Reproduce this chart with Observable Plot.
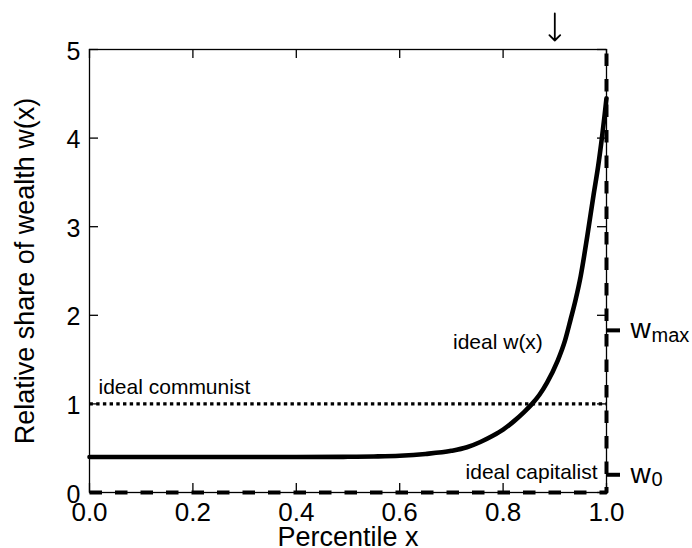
<!DOCTYPE html>
<html>
<head>
<meta charset="utf-8">
<script src="https://cdn.jsdelivr.net/npm/d3@7"></script>
<script src="https://cdn.jsdelivr.net/npm/@observablehq/plot@0.6"></script>
<style>
  html, body { margin: 0; padding: 0; background: #fff; }
  svg { display: block; }
</style>
</head>
<body>
<div id="chart"></div>
<script>
// ---- data ----
const xTicks = [0, 0.2, 0.4, 0.6, 0.8, 1.0];
const yTicks = [0, 1, 2, 3, 4, 5];

// ideal w(x) curve
const curveX = [0, 0.1, 0.2, 0.3, 0.4, 0.5, 0.55, 0.6, 0.65, 0.7, 0.73, 0.756, 0.78, 0.8, 0.82, 0.84, 0.856, 0.87, 0.885, 0.905, 0.92, 0.93, 0.94, 0.95, 0.963, 0.975, 0.984, 0.9917, 0.996, 1.0];
const curveW = [0.40, 0.40, 0.40, 0.40, 0.40, 0.403, 0.407, 0.415, 0.435, 0.47, 0.51, 0.57, 0.64, 0.71, 0.80, 0.905, 1.0, 1.10, 1.24, 1.48, 1.72, 1.94, 2.17, 2.44, 2.90, 3.36, 3.69, 4.03, 4.24, 4.45];

// ideal communist: everyone gets 1
const communistX = [0, 1];
const communistW = [1, 1];

// ideal capitalist: nobody has anything except the very top
const capitalistX = [0, 1, 1];
const capitalistW = [0, 0, 5];

// right-side markers
const markerNames = ["max", "0"];
const markerW = [1.83, 0.2];

// arrow above the plot
const arrowX = [0.9];

// annotations
const noteText = ["ideal communist", "ideal w(x)", "ideal capitalist"];
const noteX = [0, 0.79, 1];
const noteW = [1, 1.7, 0];

const xLabel = "Percentile x";
const yLabel = "Relative share of wealth w(x)";

// ---- tables built from the arrays ----
const curve = curveX.map((x, i) => ({x, w: curveW[i]}));
const communist = communistX.map((x, i) => ({x, w: communistW[i]}));
const capitalist = capitalistX.map((x, i) => ({x, w: capitalistW[i]}));
const markers = markerNames.map((s, i) => ({sub: s, w: markerW[i]}));
const notes = noteText.map((t, i) => ({t, x: noteX[i], w: noteW[i]}));

const W = 692, H = 548;
const mL = 89, mR = 86, mT = 49, mB = 56;
const plotW = W - mL - mR, plotH = H - mT - mB;
const tickLen = 9;
const font = "'Liberation Sans', Arial, Helvetica, sans-serif";

const chart = Plot.plot({
  width: W,
  height: H,
  marginLeft: mL,
  marginRight: mR,
  marginTop: mT,
  marginBottom: mB,
  x: {domain: [0, 1]},
  y: {domain: [0, 5]},
  style: {fontFamily: font, background: "white", color: "black", overflow: "visible"},
  marks: [
    // frame
    Plot.frame({stroke: "black", strokeWidth: 1.3}),
    // inward ticks on four sides
    Plot.tickX(xTicks, {x: d => d, insetTop: plotH - tickLen, stroke: "black", strokeWidth: 1.3}),
    Plot.tickX(xTicks, {x: d => d, insetBottom: plotH - tickLen, stroke: "black", strokeWidth: 1.3}),
    Plot.tickY(yTicks, {y: d => d, insetRight: plotW - tickLen, stroke: "black", strokeWidth: 1.3}),
    Plot.tickY(yTicks, {y: d => d, insetLeft: plotW - tickLen, stroke: "black", strokeWidth: 1.3}),
    // tick labels
    Plot.axisX(xTicks, {tickSize: 0, tickPadding: 10, fontSize: 26, tickFormat: d3.format(".1f"), label: null}),
    Plot.axisY(yTicks, {tickSize: 0, tickPadding: 9, fontSize: 25, tickFormat: d3.format("d"), label: null, dy: 2}),
    // axis titles
    Plot.text([xLabel], {text: d => d, frameAnchor: "bottom", textAnchor: "middle", lineAnchor: "middle", dy: 45, fontSize: 27}),
    Plot.text([yLabel], {text: d => d, frameAnchor: "left", textAnchor: "middle", lineAnchor: "middle", dx: -64, rotate: -90, fontSize: 27}),
    // ideal communist (dotted)
    Plot.line(communist, {x: "x", y: "w", stroke: "black", strokeWidth: 3.2, strokeDasharray: "3.4,3.3", strokeLinecap: "butt"}),
    // ideal capitalist (dashed)
    Plot.line(capitalist, {x: "x", y: "w", stroke: "black", strokeWidth: 4, strokeDasharray: "12.5,13", strokeLinecap: "butt", strokeLinejoin: "miter"}),
    // ideal w(x)
    Plot.line(curve, {x: "x", y: "w", stroke: "black", strokeWidth: 4.6, curve: "monotone-x"}),
    // annotations
    Plot.text(notes.slice(0, 1), {x: "x", y: "w", text: "t", textAnchor: "start", dx: 9, dy: -17, fontSize: 21}),
    Plot.text(notes.slice(1, 2), {x: "x", y: "w", text: "t", fontSize: 21}),
    Plot.text(notes.slice(2, 3), {x: "x", y: "w", text: "t", textAnchor: "end", dx: -9, dy: -20, fontSize: 21}),
    // right side markers
    Plot.tickY(markers, {y: "w", insetLeft: plotW, insetRight: -14, stroke: "black", strokeWidth: 4}),
    Plot.text(markers, {x: 1, y: "w", text: () => "w", textAnchor: "start", dx: 24, dy: -1, fontSize: 28}),
    Plot.text(markers, {x: 1, y: "w", text: "sub", textAnchor: "start", dx: 45, dy: 5, fontSize: 20}),
    // arrow above the frame
    Plot.vector(arrowX, {x: d => d, y: 5, length: 27, rotate: 180, anchor: "start", dy: -36, stroke: "black", strokeWidth: 1.8})
  ]
});

document.getElementById("chart").appendChild(chart);
</script>
</body>
</html>
